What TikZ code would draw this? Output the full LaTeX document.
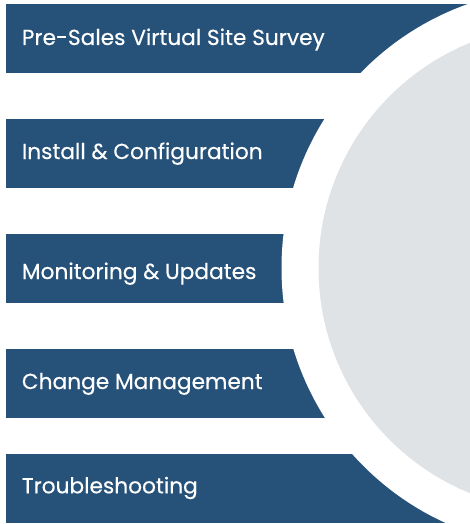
\documentclass[tikz,border=0pt]{standalone}
\usepackage{fontspec}
\newfontfamily\labelfont{Poppins}[FakeBold=0.4]
\definecolor{barblue}{HTML}{265179}
\definecolor{disc}{HTML}{DFE3E6}
\begin{document}
\begin{tikzpicture}[x=1pt,y=-1pt,
  bar/.style={fill=barblue},
  label/.style={anchor=base west,inner sep=0pt,text=white,font=\labelfont\fontsize{21.7}{24}\selectfont}]
\useasboundingbox (0,0) rectangle (470,524);
\clip (0,0) rectangle (470,524);
\fill[bar] (6,4) rectangle (480,72.7);
\fill[bar] (6,119) rectangle (480,187.7);
\fill[bar] (6,234) rectangle (480,302.7);
\fill[bar] (6,349) rectangle (480,417.7);
\fill[bar] (6,454) rectangle (480,522.7);
\fill[white] (561.5,268) circle (280);
\fill[disc] (561.5,268) circle (243);
\node[label] (t1) at (21.7,45) {Pre-Sales Virtual Site Survey};
\node[label] (t2) at (21.7,159) {Install \& Configuration};
\node[label] (t3) at (21.7,279) {Monitoring \& Updates};
\node[label] (t4) at (21.7,389) {Change Management};
\node[label] (t5) at (21.7,493.3) {Troubleshooting};
\end{tikzpicture}
\end{document}
